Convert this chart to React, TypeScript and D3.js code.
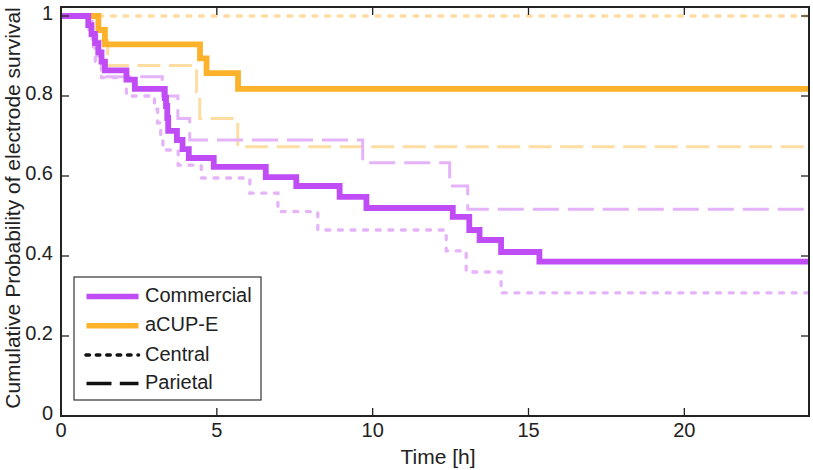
import React from "react";
import * as d3 from "d3";

// ---- data ----
const xTicks = [0, 5, 10, 15, 20];
const yTicks = [0, 0.2, 0.4, 0.6, 0.8, 1];
const yTickLabels = ["0", "0.2", "0.4", "0.6", "0.8", "1"];

const commercialT = [0, 0.875, 0.98, 1.09, 1.2, 1.3, 1.41, 2.1, 2.37, 3.33, 3.37, 3.41, 3.44, 3.72, 3.9, 4.1, 4.9, 6.57, 7.55, 8.94, 9.8, 12.57, 13.1, 13.43, 14.12, 15.35];
const commercialS = [1, 0.977, 0.955, 0.932, 0.909, 0.886, 0.864, 0.841, 0.818, 0.795, 0.775, 0.745, 0.713, 0.69, 0.667, 0.645, 0.623, 0.597, 0.575, 0.548, 0.52, 0.498, 0.465, 0.44, 0.41, 0.386];

const commCentralT = [0, 0.9, 1.0, 1.1, 1.3, 2.1, 3.0, 3.1, 3.2, 3.27, 3.76, 4.5, 6.06, 6.96, 8.24, 12.36, 13.0, 14.12];
const commCentralS = [1, 0.962, 0.923, 0.885, 0.846, 0.8, 0.767, 0.733, 0.699, 0.665, 0.627, 0.595, 0.557, 0.511, 0.465, 0.413, 0.36, 0.308];

const commParietalT = [0, 1.0, 1.15, 1.3, 3.25, 3.75, 4.13, 9.68, 12.47, 13.05];
const commParietalS = [1, 0.95, 0.9, 0.848, 0.8, 0.744, 0.69, 0.633, 0.575, 0.517];

const acupT = [0, 1.2, 1.41, 4.46, 4.67, 5.68];
const acupS = [1, 0.965, 0.929, 0.894, 0.857, 0.818];

const acupParietalT = [0, 1.2, 1.5, 4.35, 4.45, 5.67];
const acupParietalS = [1, 0.938, 0.876, 0.81, 0.744, 0.673];

const acupCentralT = [0];
const acupCentralS = [1];

const legendLabels = ["Commercial", "aCUP-E", "Central", "Parietal"];

const T_MAX = 24;

const PURPLE = "#C04CF6";
const ORANGE = "#FDB22B";
const PURPLE_L = "#E5B3F9";
const ORANGE_L = "#FEDDA3";
const FONT = "'Liberation Sans', Arial, Helvetica, sans-serif";

export default function App() {
  const W = 813, H = 470;
  const x = d3.scaleLinear().domain([0, T_MAX]).range([61, 809]);
  const y = d3.scaleLinear().domain([0, 1]).range([416, 16]);
  const top = y(1.0225);

  const line = d3.line<[number, number]>()
    .x(d => x(d[0]))
    .y(d => y(d[1]))
    .curve(d3.curveStepAfter);

  const path = (t: number[], s: number[]) => {
    const pts: [number, number][] = t.map((v, i) => [v, s[i]]);
    pts.push([T_MAX, s[s.length - 1]]);
    return line(pts) || "";
  };

  const series = [
    { t: acupCentralT, s: acupCentralS, color: ORANGE_L, w: 3.3, dash: "4 8.6", cap: "round" },
    { t: acupParietalT, s: acupParietalS, color: ORANGE_L, w: 3, dash: "23 8.5", cap: "butt" },
    { t: commCentralT, s: commCentralS, color: PURPLE_L, w: 3.3, dash: "4 8.6", cap: "round" },
    { t: commParietalT, s: commParietalS, color: PURPLE_L, w: 3, dash: "26 9", cap: "butt" },
    { t: acupT, s: acupS, color: ORANGE, w: 5.8, dash: "none", cap: "butt" },
    { t: commercialT, s: commercialS, color: PURPLE, w: 5.8, dash: "none", cap: "butt" },
  ];

  const frame = "#222";
  const tickLen = 8;

  const legendRows = [
    { y: 296.5, color: PURPLE, w: 5.5, dash: "none", cap: "butt", x1: 86.5 },
    { y: 325.7, color: ORANGE, w: 5.5, dash: "none", cap: "butt", x1: 86.5 },
    { y: 355, color: "#111", w: 3.6, dash: "3.4 7", cap: "round", x1: 86 },
    { y: 383.5, color: "#111", w: 3.6, dash: "25 8.3", cap: "butt", x1: 86.5 },
  ];

  return (
    <svg width={W} height={H} style={{ position: "absolute", left: 0, top: 0, background: "#fff" }} fontFamily={FONT}>
      <rect x={0} y={0} width={W} height={H} fill="#fff" />
      <defs>
        <clipPath id="plotclip">
          <rect x={x(0)} y={top} width={x(T_MAX) - x(0)} height={y(0) - top} />
        </clipPath>
      </defs>
      <g clipPath="url(#plotclip)">
        {series.map((d, i) => (
          <path key={i} d={path(d.t, d.s)} fill="none" stroke={d.color} strokeWidth={d.w}
            strokeDasharray={d.dash} strokeLinecap={d.cap as any} strokeLinejoin="miter" />
        ))}
      </g>
      {/* frame */}
      <rect x={x(0)} y={top} width={x(T_MAX) - x(0)} height={y(0) - top} fill="none" stroke={frame} strokeWidth={2} />
      {/* x ticks (bottom + top) */}
      {xTicks.map(t => (
        <g key={"xt" + t}>
          <line x1={x(t)} x2={x(t)} y1={y(0)} y2={y(0) - tickLen} stroke={frame} strokeWidth={1.3} />
          <line x1={x(t)} x2={x(t)} y1={top} y2={top + tickLen} stroke={frame} strokeWidth={1.3} />
          <text x={x(t)} y={437} textAnchor="middle" fontSize={20} fill="#222">{t}</text>
        </g>
      ))}
      {/* y ticks (left + right) */}
      {yTicks.map((v, i) => (
        <g key={"yt" + v}>
          <line x1={x(0)} x2={x(0) + tickLen} y1={y(v)} y2={y(v)} stroke={frame} strokeWidth={1.3} />
          <line x1={x(T_MAX)} x2={x(T_MAX) - tickLen} y1={y(v)} y2={y(v)} stroke={frame} strokeWidth={1.3} />
          <text x={53} y={y(v) + 4} textAnchor="end" fontSize={20} fill="#222">{yTickLabels[i]}</text>
        </g>
      ))}
      {/* axis labels */}
      <text x={438} y={464} textAnchor="middle" fontSize={21} fill="#222">Time [h]</text>
      <text transform="translate(20,208) rotate(-90)" textAnchor="middle" fontSize={21} fill="#222">
        Cumulative Probability of electrode survival
      </text>
      {/* legend */}
      <rect x={74} y={277} width={187} height={123} fill="#fff" stroke="#333" strokeWidth={1.2} />
      {legendRows.map((r, i) => (
        <g key={"lg" + i}>
          <line x1={r.x1} x2={138.5} y1={r.y} y2={r.y} stroke={r.color} strokeWidth={r.w}
            strokeDasharray={r.dash} strokeLinecap={r.cap as any} />
          <text x={145} y={r.y + 5.5} fontSize={20} fill="#222">{legendLabels[i]}</text>
        </g>
      ))}
    </svg>
  );
}
